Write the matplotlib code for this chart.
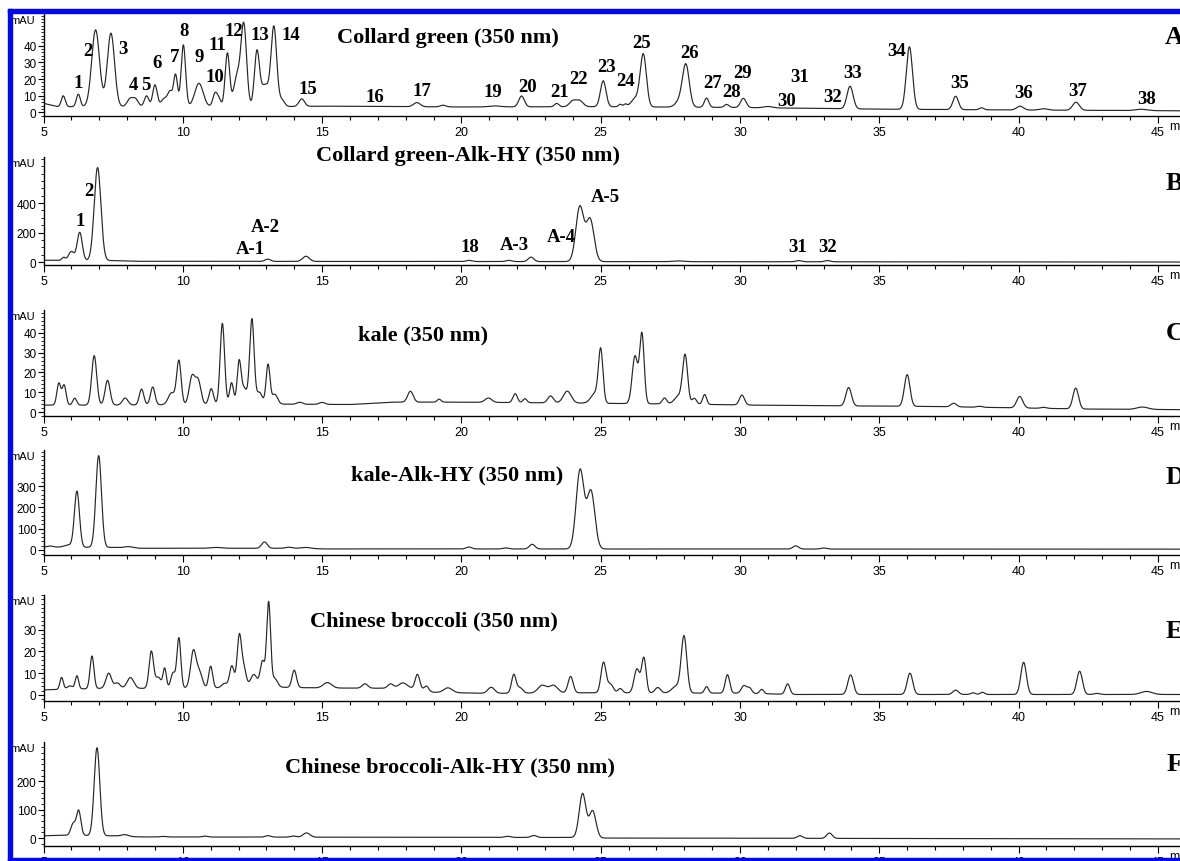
import numpy as np
import matplotlib
matplotlib.use('Agg')
import matplotlib.pyplot as plt
from matplotlib.patches import Rectangle
from matplotlib.ticker import MultipleLocator, FixedLocator

# ---------------- data (peak tables) ----------------
# Panel A : Collard green (350 nm)
A_rt  = [5.71, 6.25, 6.87, 7.42, 8.1, 8.3, 8.7, 9.0, 9.35, 9.55, 9.74, 10.02, 10.58, 11.16, 11.3,
         11.6, 11.95, 12.19, 12.66, 12.95, 13.27, 13.55, 14.27, 18.4, 19.34, 21.2, 22.16, 23.42,
         24.0, 24.25, 25.09, 25.7, 25.88, 26.25, 26.53, 27.85, 28.06, 28.8, 29.52, 30.12, 31.0,
         33.95, 36.08, 37.74, 38.67, 40.05, 40.9, 42.06, 44.4]
A_h   = [6.5, 7.5, 46, 44, 4.5, 4.5, 6.5, 13, 5, 8, 19, 37, 14, 8, 4,
         32, 18, 48, 32, 13, 47, 4, 4.5, 2.5, 1, 0.6, 6.5, 2,
         3.5, 3.5, 15.5, 1.5, 1.5, 5, 31, 4, 24.5, 5.5, 1.8, 5.5, 0.8,
         13.5, 37.5, 8, 1.2, 2.3, 0.8, 4.8, 0.8]
A_sig = [0.07, 0.07, 0.14, 0.13, 0.1, 0.1, 0.08, 0.08, 0.12, 0.08, 0.07, 0.08, 0.15, 0.08, 0.07,
         0.08, 0.12, 0.1, 0.09, 0.15, 0.1, 0.1, 0.1, 0.12, 0.1, 0.2, 0.1, 0.08,
         0.12, 0.12, 0.1, 0.06, 0.06, 0.15, 0.11, 0.15, 0.12, 0.08, 0.08, 0.1, 0.15,
         0.11, 0.11, 0.1, 0.08, 0.12, 0.15, 0.12, 0.2]
A_base_t = [5, 5.5, 7, 13.5, 15, 20, 25, 30, 35, 40, 46]
A_base_y = [5.5, 3.5, 3.5, 3.5, 3.8, 3.3, 3.5, 3.0, 2.0, 1.5, 1.0]

# Panel B : Collard green-Alk-HY (350 nm)
B_rt  = [5.72, 6.0, 6.3, 6.94, 13.05, 14.42, 20.27, 21.7, 22.5, 24.25, 24.62, 27.8, 32.1, 33.14]
B_h   = [20, 60, 190, 630, 15, 35, 8, 8, 30, 370, 285, 5, 8, 8]
B_sig = [0.06, 0.1, 0.09, 0.12, 0.1, 0.12, 0.1, 0.1, 0.1, 0.14, 0.14, 0.2, 0.1, 0.1]
B_base_t = [5, 7.5, 8.2, 25, 46]
B_base_y = [12, 10, 5, 3, 0]

# Panel C : kale (350 nm)
C_rt  = [5.55, 5.74, 6.12, 6.82, 7.3, 7.93, 8.52, 8.92, 9.6, 9.86, 10.33, 10.55, 11.02, 11.42,
         11.75, 12.02, 12.2, 12.48, 12.75, 13.06, 13.3, 14.2, 15.0, 18.17, 19.2, 20.97, 21.93,
         22.28, 23.2, 23.8, 24.8, 25.0, 26.23, 26.48, 27.29, 27.8, 28.03, 28.36, 28.73, 30.07,
         33.9, 36.0, 37.67, 38.6, 40.04, 40.9, 42.05, 44.45]
C_h   = [11, 10, 3.5, 25, 12.5, 3.5, 8, 9, 6, 22, 14, 12, 8, 41,
         11, 21, 8, 43, 6, 20, 5, 1, 1, 5.5, 1.5, 2.2, 4.5,
         2, 3.5, 6, 5, 26, 24, 35, 3, 4, 24, 3, 5, 5,
         9.3, 16, 1.8, 0.5, 5.8, 0.5, 10.5, 1.2]
C_sig = [0.07, 0.07, 0.07, 0.09, 0.09, 0.1, 0.08, 0.08, 0.12, 0.08, 0.1, 0.1, 0.08, 0.08,
         0.07, 0.07, 0.1, 0.08, 0.1, 0.07, 0.1, 0.1, 0.1, 0.1, 0.07, 0.12, 0.08,
         0.07, 0.1, 0.14, 0.15, 0.08, 0.1, 0.08, 0.08, 0.15, 0.09, 0.08, 0.07, 0.09,
         0.1, 0.1, 0.1, 0.1, 0.11, 0.1, 0.1, 0.2]
C_base_t = [5, 7, 13.5, 16, 17.5, 20, 24.5, 28, 30.5, 33, 37, 42.5, 46]
C_base_y = [3.5, 3.5, 4, 3.8, 5, 5, 4.5, 4, 3.5, 3.2, 2.8, 1.5, 1.2]

# Panel D : kale-Alk-HY (350 nm)
D_rt  = [5.23, 5.9, 6.2, 6.98, 8.05, 11.2, 12.93, 13.8, 14.4, 20.27, 21.58, 22.54, 24.26, 24.65,
         32.0, 33.0]
D_h   = [5, 10, 262, 430, 6, 4, 30, 5, 4, 9, 5, 22, 370, 270, 15, 5]
D_sig = [0.1, 0.15, 0.09, 0.1, 0.15, 0.2, 0.1, 0.12, 0.15, 0.1, 0.1, 0.1, 0.14, 0.14, 0.1, 0.1]
D_base_t = [5, 7.5, 8.5, 14.5, 15, 46]
D_base_y = [14, 12, 8, 8, 5, 4]

# Panel E : Chinese broccoli (350 nm)
E_rt  = [5.65, 5.95, 6.2, 6.74, 7.34, 7.65, 8.12, 8.87, 9.12, 9.35, 9.65, 9.86, 10.38, 10.6,
         11.0, 11.5, 11.76, 12.03, 12.2, 12.55, 12.86, 13.08, 13.3, 14.0, 15.19, 16.54, 17.46,
         17.9, 18.42, 18.75, 19.52, 21.07, 21.88, 22.1, 22.9, 23.3, 23.92, 25.1, 25.35, 25.7,
         26.3, 26.55, 27.05, 27.7, 27.99, 28.8, 29.55, 30.14, 30.34, 30.78, 31.71, 33.97, 36.1,
         37.74, 38.36, 38.7, 40.18, 42.19, 42.8, 44.59]
E_h   = [5.5, 1.5, 6, 15, 7, 2.5, 5, 17, 5, 9, 7, 23, 17, 7,
         10, 2, 10, 24, 8, 6, 12, 39, 4, 8, 2.5, 2, 2,
         2.5, 6.5, 2, 2.2, 2.8, 8.5, 2.5, 3.5, 3.5, 7.5, 14, 4, 2,
         11, 16, 2.5, 3, 26, 3, 8.5, 3.5, 2.5, 2, 4.8, 9, 9.8,
         2, 0.8, 1, 14.8, 10.7, 0.5, 1.4]
E_sig = [0.06, 0.1, 0.06, 0.07, 0.1, 0.1, 0.12, 0.08, 0.1, 0.06, 0.08, 0.07, 0.1, 0.1,
         0.07, 0.1, 0.08, 0.08, 0.08, 0.12, 0.08, 0.07, 0.1, 0.08, 0.15, 0.1, 0.1,
         0.15, 0.08, 0.07, 0.15, 0.12, 0.08, 0.1, 0.15, 0.15, 0.09, 0.09, 0.1, 0.08,
         0.1, 0.08, 0.1, 0.15, 0.1, 0.07, 0.08, 0.09, 0.08, 0.07, 0.08, 0.1, 0.1,
         0.1, 0.08, 0.08, 0.1, 0.1, 0.1, 0.2]
E_base_t = [5, 5.5, 7, 8.4, 13.6, 15, 18.5, 19, 21, 24, 30, 32, 46]
E_base_y = [2.3, 2.5, 3, 3, 3.5, 3.2, 3, 1.2, 0.7, 1, 0.8, 0.2, 0.2]

# Panel F : Chinese broccoli-Alk-HY (350 nm)
F_rt  = [6.06, 6.26, 6.92, 7.91, 9.3, 10.8, 13.06, 13.96, 14.44, 21.65, 22.6, 24.35, 24.71,
         32.15, 33.21]
F_h   = [40, 88, 310, 6, 2, 3, 5, 4, 15, 4, 7, 155, 95, 9, 19]
F_sig = [0.08, 0.08, 0.1, 0.12, 0.1, 0.1, 0.1, 0.1, 0.12, 0.1, 0.1, 0.12, 0.12, 0.1, 0.1]
F_base_t = [5, 5.8, 7.5, 8.5, 24, 25.2, 46]
F_base_y = [8, 10, 8, 4, 2, 0, -3]

titles  = ['Collard green (350 nm)', 'Collard green-Alk-HY (350 nm)', 'kale (350 nm)',
           'kale-Alk-HY (350 nm)', 'Chinese broccoli (350 nm)', 'Chinese broccoli-Alk-HY (350 nm)']
letters = ['A', 'B', 'C', 'D', 'E', 'F']
x_ticks = [5, 10, 15, 20, 25, 30, 35, 40, 45]

A_labels = ['1', '2', '3', '4', '5', '6', '7', '8', '9', '10', '11', '12', '13', '14', '15', '16',
            '17', '19', '20', '21', '22', '23', '24', '25', '26', '27', '28', '29', '30', '31',
            '32', '33', '34', '35', '36', '37', '38']
B_labels = ['1', '2', 'A-1', 'A-2', '18', 'A-3', 'A-4', 'A-5', '31', '32']

# ---------------- layout (pixels) ----------------
W, H = 1180, 862
X0_PX, PX_PER_MIN = 43.5, 27.86
XMAX = 5 + (W - X0_PX) / PX_PER_MIN

# top px, axis-line px, ymin, ymax, major y ticks, minor step
panel_layout = [
    (15, 117, -2.1, 59.0, [0, 10, 20, 30, 40], 2),
    (158, 266, -20, 712, [0, 200, 400], 50),
    (311, 417, -2.0, 51.6, [0, 10, 20, 30, 40], 2),
    (451, 556, -23.5, 469, [0, 100, 200, 300], 20),
    (596, 702, -2.8, 46, [0, 10, 20, 30], 2),
    (743, 847, -28, 339, [0, 100, 200], 20),
]
title_pos  = [(448, 38), (468, 156), (423, 335), (457, 475), (434, 621), (450, 767)]
letter_pos = [(1165, 38), (1166, 184), (1166, 333), (1166, 478), (1166, 632), (1167, 765)]

A_label_pos = [(78, 83), (88, 52), (123, 49), (133, 86), (146, 86), (157, 63), (175, 57), (184, 32),
               (199, 57), (215, 78), (217, 45), (234, 32), (260, 35), (291, 35), (308, 89),
               (375, 98), (422, 91), (493, 93), (528, 88), (560, 93), (579, 79), (607, 67),
               (626, 81), (642, 43), (690, 53), (713, 83), (732, 93), (743, 74), (787, 102),
               (800, 78), (833, 98), (853, 73), (897, 51), (960, 83), (1024, 94), (1078, 92),
               (1147, 100)]
B_label_pos = [(80, 222), (89, 192), (250, 250), (265, 228), (470, 248), (514, 245),
               (561, 237), (605, 198), (798, 248), (828, 248)]

SERIF = ['Liberation Serif', 'DejaVu Serif']
SANS = ['Liberation Sans', 'DejaVu Sans']


def trace(t, rt, h, sig, bt, by):
    y = np.interp(t, bt, by)
    for r, hh, s in zip(rt, h, sig):
        y = y + hh * np.exp(-0.5 * ((t - r) / s) ** 2)
    return y


fig = plt.figure(figsize=(W / 100, H / 100), dpi=100)
fig.patch.set_facecolor('white')

series = [(A_rt, A_h, A_sig, A_base_t, A_base_y), (B_rt, B_h, B_sig, B_base_t, B_base_y),
          (C_rt, C_h, C_sig, C_base_t, C_base_y), (D_rt, D_h, D_sig, D_base_t, D_base_y),
          (E_rt, E_h, E_sig, E_base_t, E_base_y), (F_rt, F_h, F_sig, F_base_t, F_base_y)]

t = np.linspace(5, XMAX, 6000)

for i, (lay, ser) in enumerate(zip(panel_layout, series)):
    top, line, ymin, ymax, majors, minor = lay
    ax = fig.add_axes([X0_PX / W, 1 - line / H, (W - X0_PX) / W, (line - top) / H])
    ax.patch.set_alpha(0)
    y = trace(t, *ser)
    ax.plot(t, y, color='#262626', lw=0.85)
    ax.set_xlim(5, XMAX)
    ax.set_ylim(ymin, ymax)
    for s in ['top', 'right']:
        ax.spines[s].set_visible(False)
    for s in ['left', 'bottom']:
        ax.spines[s].set_linewidth(1.0)
        ax.spines[s].set_color('black')
    ax.xaxis.set_major_locator(FixedLocator(x_ticks))
    ax.xaxis.set_minor_locator(MultipleLocator(1))
    ax.yaxis.set_major_locator(FixedLocator(majors))
    ax.yaxis.set_minor_locator(MultipleLocator(minor))
    ax.tick_params(axis='x', which='major', direction='out', length=5, width=0.8, pad=2,
                   labelsize=9)
    ax.tick_params(axis='x', which='minor', direction='out', length=3, width=0.8)
    ax.tick_params(axis='y', which='major', direction='out', length=4, width=0.8, pad=1,
                   labelsize=8.5)
    ax.tick_params(axis='y', which='minor', direction='out', length=2, width=0.6)
    for lab in ax.get_xticklabels() + ax.get_yticklabels():
        lab.set_family(SANS)
    ax.text(45.42, -0.035, 'min', transform=ax.get_xaxis_transform(), ha='left', va='top',
            fontsize=9, family=SANS, clip_on=False)
    # mAU label at the top of the axis
    fig.text(35 / W, 1 - (top + 6) / H, 'mAU', ha='right', va='center', fontsize=8,
             family=SANS)
    tx, ty = title_pos[i]
    fig.text(tx / W, 1 - ty / H, titles[i], ha='center', va='center', fontsize=16,
             fontweight='bold', family=SERIF)
    lx, ly = letter_pos[i]
    fig.text(lx / W, 1 - ly / H, letters[i], ha='left', va='center', fontsize=19,
             fontweight='bold', family=SERIF)

for lab, (px, py) in zip(A_labels, A_label_pos):
    fig.text(px / W, 1 - py / H, lab, ha='center', va='center', fontsize=13.5,
             fontweight='bold', family=SERIF)
for lab, (px, py) in zip(B_labels, B_label_pos):
    fig.text(px / W, 1 - py / H, lab, ha='center', va='center', fontsize=13.5,
             fontweight='bold', family=SERIF)

# blue frame
blue = '#0008F0'
fig.patches.append(Rectangle((8 / W, 0), 4 / W, 1 - 10 / H, transform=fig.transFigure,
                             color=blue, zorder=10))
fig.patches.append(Rectangle((8 / W, 1 - 14 / H), 1 - 8 / W, 4 / H, transform=fig.transFigure,
                             color=blue, zorder=10))
fig.patches.append(Rectangle((8 / W, 0), 1 - 8 / W, 3.5 / H, transform=fig.transFigure,
                             color=blue, zorder=10))

fig.savefig('out.png', dpi=100)
